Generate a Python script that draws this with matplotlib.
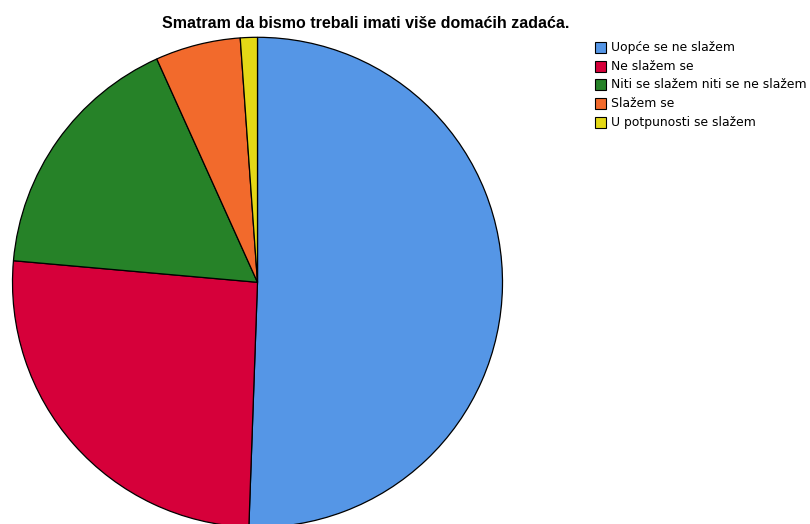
import matplotlib
matplotlib.use("Agg")
import matplotlib.pyplot as plt
from matplotlib.patches import Rectangle

title = "Smatram da bismo trebali imati više domaćih zadaća."
categories = ["Uopće se ne slažem", "Ne slažem se", "Niti se slažem niti se ne slažem",
              "Slažem se", "U potpunosti se slažem"]
counts = [45, 23, 15, 5, 1]
colors = ["#5596E6", "#D6003A", "#268228", "#F26A2C", "#E4D816"]

W, H = 810, 524
fig = plt.figure(figsize=(W / 100, H / 100), dpi=100)
ax = fig.add_axes([0, 0, 1, 1])
cx, cy, r = 257.5, 282.3, 245.0
ax.pie(counts, colors=colors, startangle=90, counterclock=False, radius=1,
       wedgeprops=dict(edgecolor="black", linewidth=0.9))
ax.set_aspect("auto")
ax.set_xlim(-cx / r, (W - cx) / r)
ax.set_ylim(-(H - cy) / r, cy / r)
ax.axis("off")

fig.text(366 / W, 1 - 28.5 / H, title, ha="center", va="baseline",
         fontsize=11.5, fontweight="bold", family="Liberation Sans")

y0, dy = 47.5, 18.7
for i, (lab, col) in enumerate(zip(categories, colors)):
    yc = y0 + i * dy
    fig.patches.append(Rectangle((594.5 / W, 1 - (yc + 5.5) / H), 11.5 / W, 11 / H,
                                 transform=fig.transFigure, facecolor=col,
                                 edgecolor="black", linewidth=0.8))
    fig.text(611 / W, 1 - yc / H, lab, ha="left", va="center",
             fontsize=8.9, family="DejaVu Sans")

fig.savefig("out.png", dpi=100)
